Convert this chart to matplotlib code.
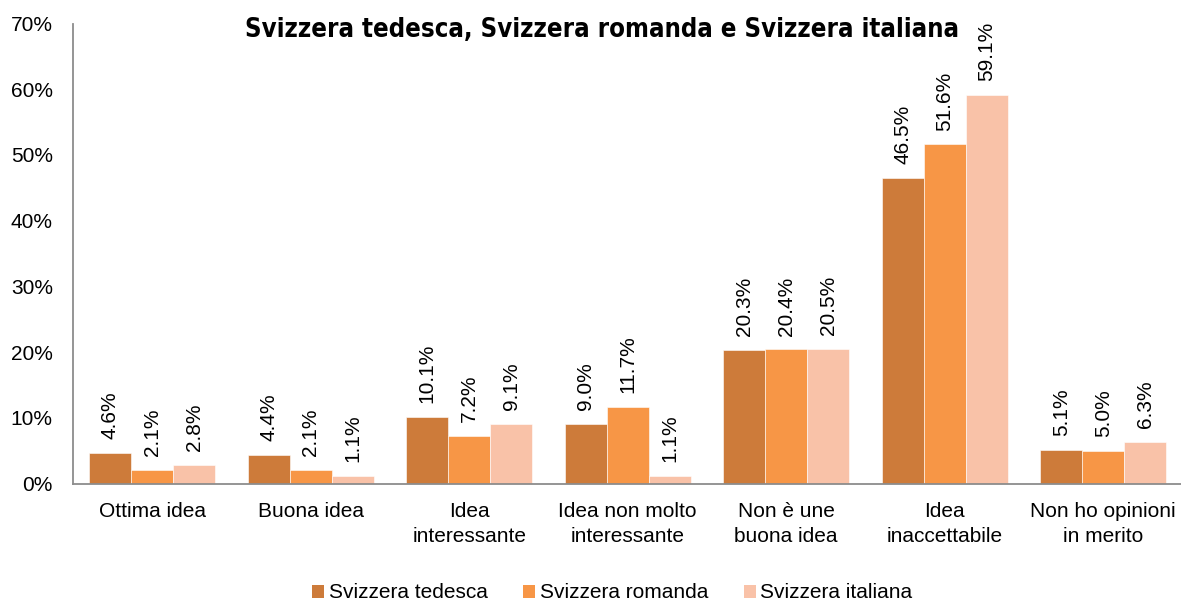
import matplotlib
matplotlib.use("Agg")
import matplotlib.pyplot as plt
import numpy as np
from matplotlib.ticker import FuncFormatter
from matplotlib.patches import Patch

categories = ["Ottima idea", "Buona idea", "Idea\ninteressante", "Idea non molto\ninteressante",
              "Non è une\nbuona idea", "Idea\ninaccettabile", "Non ho opinioni\nin merito"]
series_names = ["Svizzera tedesca", "Svizzera romanda", "Svizzera italiana"]
tedesca = [4.6, 4.4, 10.1, 9.0, 20.3, 46.5, 5.1]
romanda = [2.1, 2.1, 7.2, 11.7, 20.4, 51.6, 5.0]
italiana = [2.8, 1.1, 9.1, 1.1, 20.5, 59.1, 6.3]
title = "Svizzera tedesca, Svizzera romanda e Svizzera italiana"
colors = ["#CD7B3A", "#F79646", "#F9C2A8"]

plt.rcParams['font.family'] = ['Liberation Sans', 'DejaVu Sans']

W, H = 1181, 603
fig = plt.figure(figsize=(W / 100, H / 100), dpi=100)
ax = fig.add_axes([73 / W, 1 - 483.5 / H, 1109.5 / W, 460 / H])

x = np.arange(len(categories))
bw = 0.265
data = [tedesca, romanda, italiana]
for i, (vals, c) in enumerate(zip(data, colors)):
    pos = x + (i - 1) * bw
    bars = ax.bar(pos, vals, width=bw, color=c, edgecolor='white', linewidth=0.4, zorder=2)
    for b, v in zip(bars, vals):
        ax.annotate(f"{v:.1f}%", (b.get_x() + b.get_width() / 2, v), xytext=(0, 10),
                    textcoords='offset points', rotation=90, ha='center', va='bottom',
                    fontsize=15, color='black', annotation_clip=False)

ax.set_xlim(-0.5, 6.5)
ax.set_ylim(0, 70)
ax.set_yticks(np.arange(0, 71, 10))
ax.yaxis.set_major_formatter(FuncFormatter(lambda v, p: f"{int(v)}%"))
ax.set_xticks(x)
ax.set_xticklabels(categories, fontsize=15, linespacing=1.4)
ax.tick_params(axis='y', length=0, pad=14.5, labelsize=15)
ax.tick_params(axis='x', length=0, pad=13)
for s in ['top', 'right']:
    ax.spines[s].set_visible(False)
for s in ['left', 'bottom']:
    ax.spines[s].set_color('#8C8C8C')
    ax.spines[s].set_linewidth(1.3)

# title sized to reference width
t = fig.text(602 / W, 1 - 37 / H, title, ha='center', va='baseline',
             fontsize=16, fontweight='bold', family='DejaVu Sans', fontstretch='condensed')
fig.canvas.draw()
wpx = t.get_window_extent().width
t.set_fontsize(16 * 715 / wpx)

handles = [Patch(facecolor=c, edgecolor='none') for c in colors]
fig.legend(handles, series_names, loc='center', bbox_to_anchor=(612.5 / W, 1 - 593 / H),
           ncol=3, frameon=False, fontsize=15, handlelength=0.58, handleheight=0.58,
           handletextpad=0.22, columnspacing=1.7, borderpad=0, borderaxespad=0)

fig.savefig("out.png", dpi=100)
